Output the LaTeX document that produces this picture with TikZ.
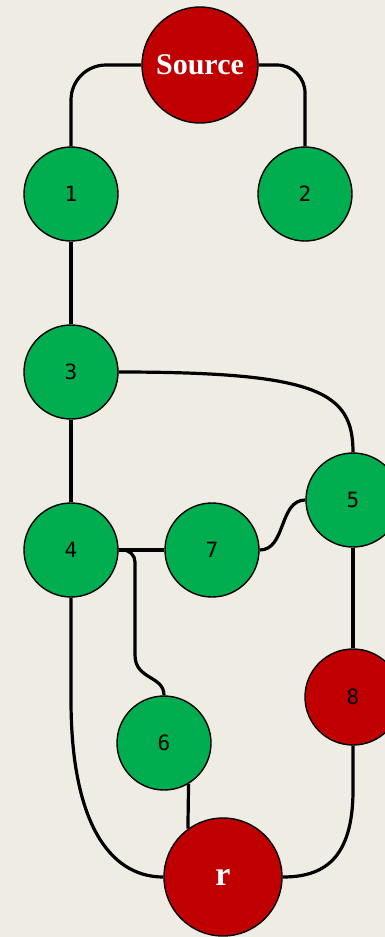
\documentclass[tikz,border=0pt]{standalone}
\usepackage{fontspec}
\setmainfont{Liberation Serif}
\newfontfamily\numfont{DejaVu Sans Mono}
\definecolor{paper}{RGB}{239,236,228}
\definecolor{nodegreen}{RGB}{0,173,79}
\definecolor{nodered}{RGB}{192,0,0}
\begin{document}
\begin{tikzpicture}[x=1pt,y=-1pt,
  vertex/.style={circle,draw=black,line width=1.4pt,inner sep=0pt,
    minimum size=94pt,fill=nodegreen,font=\numfont\fontsize{21}{21}\selectfont},
  hot/.style={vertex,fill=nodered},
  big/.style={hot,text=white,font=\bfseries\fontsize{30}{30}\selectfont},
  link/.style={line width=3.2pt,black}]
\fill[paper] (0,0) rectangle (385,937);
\useasboundingbox (0,0) rectangle (385,937);

% vertices
\node[big,minimum size=116pt] (src) at (200,65) {Source};
\node[vertex] (n1) at (71,194) {1};
\node[vertex] (n2) at (305,194) {2};
\node[vertex] (n3) at (71,372) {3};
\node[vertex] (n4) at (71,550) {4};
\node[vertex] (n7) at (212,550) {7};
\node[vertex] (n5) at (353,500) {5};
\node[hot,minimum size=96pt] (n8) at (353,697) {8};
\node[vertex] (n6) at (164,743) {6};
\node[big,minimum size=118pt,font=\bfseries\fontsize{34}{34}\selectfont] (sink) at (223,877) {r};

% bend points
\coordinate (k46) at (135,655);
\coordinate (k4r) at (71,700);
\coordinate (k8r) at (353,790);

% links
\draw[link,rounded corners=35pt] (src.west) -| (n1.north);
\draw[link,rounded corners=28pt] (src.east) -| (n2.north);
\draw[link] (n1.south) -- (n3.north);
\draw[link] (n3.east) .. controls +(200,0) and +(0,-60) .. (n5.north);
\draw[link] (n3.south) -- (n4.north);
\draw[link] (n4.east) -- (n7.west);
\draw[link] (n7.east) to[out=0,in=180] (n5.west);
\draw[link,rounded corners=12pt] (n4.east) -| (k46);
\draw[link] (k46) .. controls +(0,25) and +(0,-20) .. (n6.north);
\draw[link] (n6.-59) -- (sink.126);
\draw[link] (n4.south) -- (k4r) .. controls +(0,120) and +(-55,0) .. (sink.west);
\draw[link] (n5.south) -- (n8.north);
\draw[link] (n8.south) -- (k8r) .. controls +(0,70) and +(40,0) .. (sink.east);
\end{tikzpicture}
\end{document}
